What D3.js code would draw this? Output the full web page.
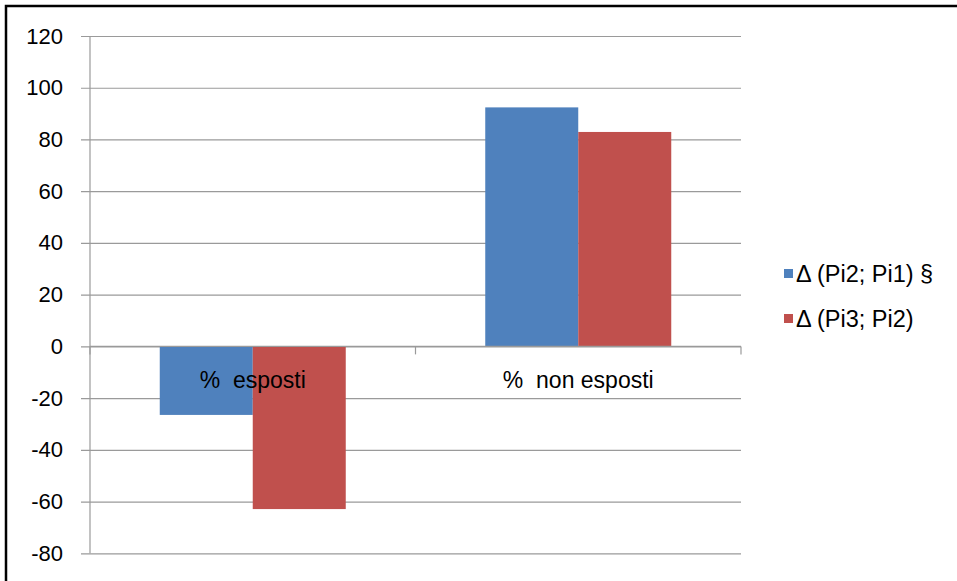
<!DOCTYPE html>
<html>
<head>
<meta charset="utf-8">
<script src="https://cdn.jsdelivr.net/npm/d3@7"></script>
<style>
  html, body { margin: 0; padding: 0; background: #fff; }
  svg { display: block; }
  text { font-family: "Liberation Sans", Arial, sans-serif; fill: #000; }
</style>
</head>
<body>
<svg id="chart" width="957" height="581"></svg>
<script>
// Data
const categories = ["%  esposti", "%  non esposti"];
const seriesNames = ["\u0394 (Pi2; Pi1) \u00a7", "\u0394 (Pi3; Pi2)"];
const seriesColors = ["#4F81BD", "#C0504D"];
const deltaPi2Pi1 = [-26.5, 92.4];
const deltaPi3Pi2 = [-62.9, 82.9];
const yTicks = [-80, -60, -40, -20, 0, 20, 40, 60, 80, 100, 120];

const seriesValues = [deltaPi2Pi1, deltaPi3Pi2];

const svg = d3.select("#chart");

// Outer frame
svg.append("rect")
  .attr("x", 6).attr("y", 6)
  .attr("width", 1000).attr("height", 1000)
  .attr("fill", "none")
  .attr("stroke", "#000")
  .attr("stroke-width", 2.5);

const plot = { left: 90, right: 741, top: 36, bottom: 553.3 };

const y = d3.scaleLinear().domain([-80, 120]).range([plot.bottom, plot.top]);
const x0 = d3.scaleBand().domain(categories).range([plot.left, plot.right]).paddingInner(0).paddingOuter(0);
const x1 = d3.scaleBand().domain(d3.range(seriesNames.length))
  .range([0, x0.bandwidth()]).paddingInner(0).paddingOuter(0.75);

// Value axis with gridlines
const yAxis = d3.axisLeft(y)
  .tickValues(yTicks)
  .tickSize(-(plot.right - (plot.left - 9)))
  .tickPadding(18)
  .tickFormat(d => String(d));

const gy = svg.append("g")
  .attr("transform", `translate(${plot.left - 9},0)`)
  .call(yAxis);
gy.select(".domain").remove();
gy.selectAll(".tick line").attr("stroke", "#9a9a9a").attr("stroke-width", 1.2);
gy.selectAll(".tick text")
  .attr("font-size", 22)
  .attr("font-family", "Liberation Sans, Arial, sans-serif")
  .attr("fill", "#000");

// Vertical axis line
svg.append("line")
  .attr("x1", plot.left).attr("x2", plot.left)
  .attr("y1", plot.top).attr("y2", plot.bottom)
  .attr("stroke", "#9a9a9a").attr("stroke-width", 1.2);

// Bars
const groups = svg.append("g").selectAll("g")
  .data(categories)
  .join("g")
  .attr("transform", d => `translate(${x0(d)},0)`);

groups.selectAll("rect")
  .data((d, ci) => seriesValues.map((vals, si) => ({ si, v: vals[ci] })))
  .join("rect")
  .attr("x", d => x1(d.si))
  .attr("width", x1.bandwidth())
  .attr("y", d => y(Math.max(0, d.v)))
  .attr("height", d => Math.abs(y(d.v) - y(0)))
  .attr("fill", d => seriesColors[d.si]);

// Category axis at zero
const gx = svg.append("g")
  .attr("transform", `translate(0,${y(0)})`);
gx.append("line")
  .attr("x1", plot.left).attr("x2", plot.right)
  .attr("stroke", "#9a9a9a").attr("stroke-width", 1.2);
const boundaries = [plot.left].concat(categories.map(c => x0(c) + x0.bandwidth()));
gx.selectAll("line.tk")
  .data(boundaries)
  .join("line")
  .attr("class", "tk")
  .attr("x1", d => d).attr("x2", d => d)
  .attr("y1", 0).attr("y2", 8)
  .attr("stroke", "#9a9a9a").attr("stroke-width", 1.2);

// Category labels
svg.append("g").selectAll("text")
  .data(categories)
  .join("text")
  .attr("x", d => x0(d) + x0.bandwidth() / 2)
  .attr("y", y(0) + 42)
  .attr("text-anchor", "middle")
  .attr("font-size", 23)
  .style("white-space", "pre")
  .text(d => d);

// Legend
const legend = svg.append("g").attr("transform", "translate(784,0)");
const legendY = [273.5, 318.5];
const li = legend.selectAll("g")
  .data(seriesNames)
  .join("g")
  .attr("transform", (d, i) => `translate(0,${legendY[i]})`);
li.append("rect")
  .attr("x", 0).attr("y", -4.5)
  .attr("width", 9).attr("height", 9)
  .attr("fill", (d, i) => seriesColors[i]);
li.append("text")
  .attr("x", 12).attr("y", 8)
  .attr("font-size", 23.5)
  .text(d => d);
</script>
</body>
</html>
